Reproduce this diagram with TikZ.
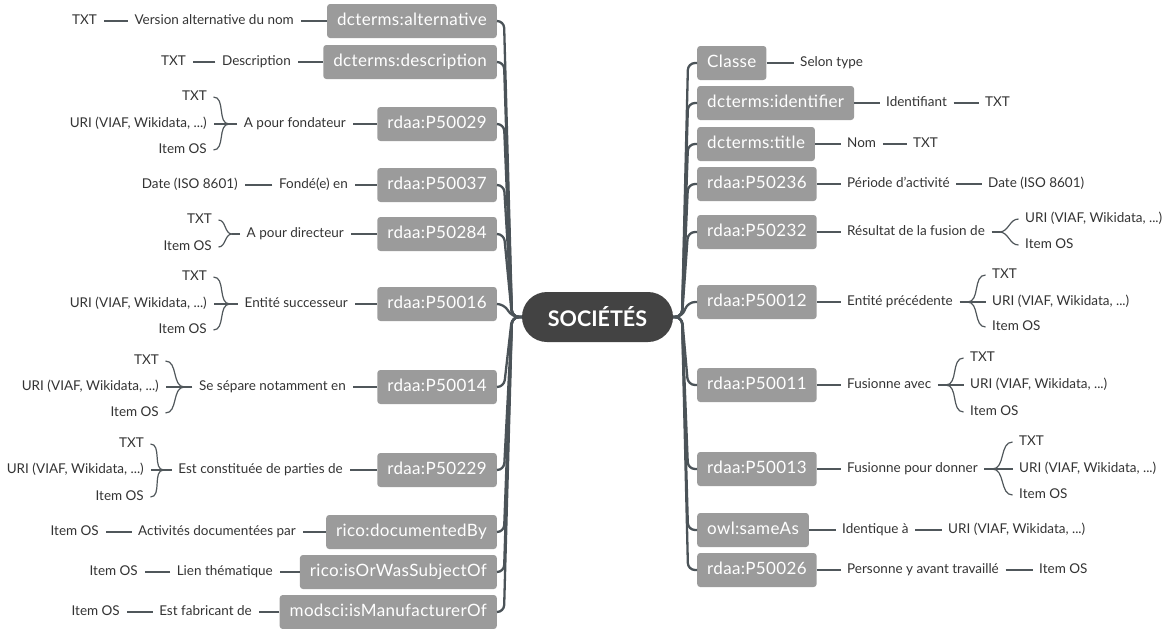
\documentclass[tikz,border=0pt]{standalone}
\usepackage{fontspec}
\setmainfont{Lato}
\newfontfamily\boxfont[LetterSpace=2]{Lato}
\definecolor{boxgray}{HTML}{9B9B9B}
\definecolor{centerdark}{HTML}{434343}
\definecolor{trunkc}{HTML}{4B5358}
\definecolor{linec}{HTML}{50575B}
\definecolor{txtc}{HTML}{333333}
\begin{document}
\begin{tikzpicture}[x=1pt,y=-1pt,
  prop/.style={fill=boxgray, text=white, rounded corners=3pt, minimum height=34pt,
    inner xsep=10pt, inner ysep=0pt, text height=12pt, text depth=3.5pt,
    font=\boxfont\fontsize{17}{19}\selectfont},
  lbl/.style={text=txtc, inner xsep=6.5pt, inner ysep=1pt, text height=9.5pt, text depth=2.5pt,
    font=\fontsize{13.5}{15}\selectfont},
  hub/.style={fill=centerdark, text=white, rounded corners=25pt, minimum width=151pt,
    minimum height=50pt, font=\fontsize{21.5}{23}\selectfont\bfseries},
  trunk/.style={draw=trunkc, line width=2.3pt, rounded corners=7pt},
  twig/.style={draw=linec, line width=1.2pt},
  brL/.style={twig, out=180, in=0},
  brR/.style={twig, out=0, in=180}]
\useasboundingbox (0,0) rectangle (1167,629);

% centre
\node[hub] (c) at (597.5,317) {SOCIÉTÉS};
\coordinate (jl) at (512,317);
\coordinate (sl) at (504,317);
\coordinate (jr) at (682,317);
\coordinate (sr) at (688,317);

% left boxes
\node[prop, anchor=east] (b1) at (497,21) {dcterms:alternative};
\node[prop, anchor=east] (b2) at (497,62) {dcterms:description};
\node[prop, anchor=east] (b3) at (497,124) {rdaa:P50029};
\node[prop, anchor=east] (b4) at (497,185) {rdaa:P50037};
\node[prop, anchor=east] (b5) at (497,234) {rdaa:P50284};
\node[prop, anchor=east] (b6) at (497,304) {rdaa:P50016};
\node[prop, anchor=east] (b7) at (497,387) {rdaa:P50014};
\node[prop, anchor=east] (b8) at (497,470) {rdaa:P50229};
\node[prop, anchor=east] (b9) at (497,532) {rico:documentedBy};
\node[prop, anchor=east] (b10) at (497,572) {rico:isOrWasSubjectOf};
\node[prop, anchor=east] (b11) at (497,612) {modsci:isManufacturerOf};

% right boxes
\node[prop, anchor=west] (r1) at (697,63) {Classe};
\node[prop, anchor=west] (r2) at (697,103) {dcterms:identifier};
\node[prop, anchor=west] (r3) at (697,144) {dcterms:title};
\node[prop, anchor=west] (r4) at (697,184) {rdaa:P50236};
\node[prop, anchor=west] (r5) at (697,232) {rdaa:P50232};
\node[prop, anchor=west] (r6) at (697,302) {rdaa:P50012};
\node[prop, anchor=west] (r7) at (697,385) {rdaa:P50011};
\node[prop, anchor=west] (r8) at (697,469) {rdaa:P50013};
\node[prop, anchor=west] (r9) at (697,530) {owl:sameAs};
\node[prop, anchor=west] (r10) at (697,570) {rdaa:P50026};

% trunks
\foreach \b in {b1,b2,b3,b4,b5,b6,b7,b8,b9,b10,b11}
  \draw[trunk] (c.west) -- (jl) -- (sl |- \b.east) -- (\b.east);
\foreach \b in {r1,r2,r3,r4,r5,r6,r7,r8,r9,r10}
  \draw[trunk] (c.east) -- (jr) -- (sr |- \b.west) -- (\b.west);

% ---------- left labels ----------
\node[lbl, anchor=east] (l1) at (300.5,21) {Version alternative du nom};
\node[lbl, anchor=east] (t1) at (103.5,21) {TXT};
\draw[twig] (b1.west) -- (l1.east);
\draw[twig] (l1.west) -- (t1.east);

\node[lbl, anchor=east] (l2) at (297.5,62) {Description};
\node[lbl, anchor=east] (t2) at (192.5,62) {TXT};
\draw[twig] (b2.west) -- (l2.east);
\draw[twig] (l2.west) -- (t2.east);

\node[lbl, anchor=east] (l3) at (352.5,124) {A pour fondateur};
\node[lbl, anchor=east] (a3) at (213.5,97) {TXT};
\node[lbl, anchor=east] (u3) at (213.5,124) {URI (VIAF, Wikidata, ...)};
\node[lbl, anchor=east] (i3) at (213.5,150) {Item OS};
\draw[twig] (b3.west) -- (l3.east);
\draw[twig] (l3.west) -- ++(-8,0) coordinate (p3);
\draw[brL] (p3) to (a3.east);
\draw[twig] (p3) -- (u3.east);
\draw[brL] (p3) to (i3.east);

\node[lbl, anchor=east] (l4) at (354.5,185) {Fondé(e) en};
\node[lbl, anchor=east] (t4) at (244.5,185) {Date (ISO 8601)};
\draw[twig] (b4.west) -- (l4.east);
\draw[twig] (l4.west) -- (t4.east);

\node[lbl, anchor=east] (l5) at (350.5,234) {A pour directeur};
\node[lbl, anchor=east] (a5) at (218.5,220) {TXT};
\node[lbl, anchor=east] (i5) at (218.5,247) {Item OS};
\draw[twig] (b5.west) -- (l5.east);
\draw[twig] (l5.west) -- ++(-8,0) coordinate (p5);
\draw[brL] (p5) to (a5.east);
\draw[brL] (p5) to (i5.east);

\node[lbl, anchor=east] (l6) at (354.5,304) {Entité successeur};
\node[lbl, anchor=east] (a6) at (213.5,277) {TXT};
\node[lbl, anchor=east] (u6) at (213.5,304) {URI (VIAF, Wikidata, ...)};
\node[lbl, anchor=east] (i6) at (213.5,330) {Item OS};
\draw[twig] (b6.west) -- (l6.east);
\draw[twig] (l6.west) -- ++(-8,0) coordinate (p6);
\draw[brL] (p6) to (a6.east);
\draw[twig] (p6) -- (u6.east);
\draw[brL] (p6) to (i6.east);

\node[lbl, anchor=east] (l7) at (352.5,387) {Se sépare notamment en};
\node[lbl, anchor=east] (a7) at (165.5,361) {TXT};
\node[lbl, anchor=east] (u7) at (165.5,387) {URI (VIAF, Wikidata, ...)};
\node[lbl, anchor=east] (i7) at (165.5,413) {Item OS};
\draw[twig] (b7.west) -- (l7.east);
\draw[twig] (l7.west) -- ++(-8,0) coordinate (p7);
\draw[brL] (p7) to (a7.east);
\draw[twig] (p7) -- (u7.east);
\draw[brL] (p7) to (i7.east);

\node[lbl, anchor=east] (l8) at (349.5,470) {Est constituée de parties de};
\node[lbl, anchor=east] (a8) at (150.5,444) {TXT};
\node[lbl, anchor=east] (u8) at (150.5,470) {URI (VIAF, Wikidata, ...)};
\node[lbl, anchor=east] (i8) at (150.5,497) {Item OS};
\draw[twig] (b8.west) -- (l8.east);
\draw[twig] (l8.west) -- ++(-8,0) coordinate (p8);
\draw[brL] (p8) to (a8.east);
\draw[twig] (p8) -- (u8.east);
\draw[brL] (p8) to (i8.east);

\node[lbl, anchor=east] (l9) at (302.5,532) {Activités documentées par};
\node[lbl, anchor=east] (t9) at (105.5,532) {Item OS};
\draw[twig] (b9.west) -- (l9.east);
\draw[twig] (l9.west) -- (t9.east);

\node[lbl, anchor=east] (l10) at (279.5,572) {Lien thématique};
\node[lbl, anchor=east] (t10) at (144.5,572) {Item OS};
\draw[twig] (b10.west) -- (l10.east);
\draw[twig] (l10.west) -- (t10.east);

\node[lbl, anchor=east] (l11) at (258.5,612) {Est fabricant de};
\node[lbl, anchor=east] (t11) at (126.5,612) {Item OS};
\draw[twig] (b11.west) -- (l11.east);
\draw[twig] (l11.west) -- (t11.east);

% ---------- right labels ----------
\node[lbl, anchor=west] (m1) at (793.5,63) {Selon type};
\draw[twig] (r1.east) -- (m1.west);

\node[lbl, anchor=west] (m2) at (879.5,103) {Identifiant};
\node[lbl, anchor=west] (s2) at (978.5,103) {TXT};
\draw[twig] (r2.east) -- (m2.west);
\draw[twig] (m2.east) -- (s2.west);

\node[lbl, anchor=west] (m3) at (840.5,144) {Nom};
\node[lbl, anchor=west] (s3) at (906.5,144) {TXT};
\draw[twig] (r3.east) -- (m3.west);
\draw[twig] (m3.east) -- (s3.west);

\node[lbl, anchor=west] (m4) at (840.5,184) {Période d'activité};
\node[lbl, anchor=west] (s4) at (981.5,184) {Date (ISO 8601)};
\draw[twig] (r4.east) -- (m4.west);
\draw[twig] (m4.east) -- (s4.west);

\node[lbl, anchor=west] (m5) at (840.5,232) {Résultat de la fusion de};
\node[lbl, anchor=west] (u5) at (1018.5,219) {URI (VIAF, Wikidata, ...)};
\node[lbl, anchor=west] (k5) at (1018.5,245) {Item OS};
\draw[twig] (r5.east) -- (m5.west);
\draw[twig] (m5.east) -- ++(8,0) coordinate (q5);
\draw[brR] (q5) to (u5.west);
\draw[brR] (q5) to (k5.west);

\node[lbl, anchor=west] (m6) at (840.5,302) {Entité précédente};
\node[lbl, anchor=west] (e6) at (985.5,275) {TXT};
\node[lbl, anchor=west] (u6r) at (985.5,302) {URI (VIAF, Wikidata, ...)};
\node[lbl, anchor=west] (k6) at (985.5,327) {Item OS};
\draw[twig] (r6.east) -- (m6.west);
\draw[twig] (m6.east) -- ++(8,0) coordinate (q6);
\draw[brR] (q6) to (e6.west);
\draw[twig] (q6) -- (u6r.west);
\draw[brR] (q6) to (k6.west);

\node[lbl, anchor=west] (m7) at (840.5,385) {Fusionne avec};
\node[lbl, anchor=west] (e7) at (963.5,358) {TXT};
\node[lbl, anchor=west] (u7r) at (963.5,385) {URI (VIAF, Wikidata, ...)};
\node[lbl, anchor=west] (k7) at (963.5,412) {Item OS};
\draw[twig] (r7.east) -- (m7.west);
\draw[twig] (m7.east) -- ++(8,0) coordinate (q7);
\draw[brR] (q7) to (e7.west);
\draw[twig] (q7) -- (u7r.west);
\draw[brR] (q7) to (k7.west);

\node[lbl, anchor=west] (m8) at (840.5,469) {Fusionne pour donner};
\node[lbl, anchor=west] (e8) at (1012.5,442) {TXT};
\node[lbl, anchor=west] (u8r) at (1012.5,469) {URI (VIAF, Wikidata, ...)};
\node[lbl, anchor=west] (k8) at (1012.5,495) {Item OS};
\draw[twig] (r8.east) -- (m8.west);
\draw[twig] (m8.east) -- ++(8,0) coordinate (q8);
\draw[brR] (q8) to (e8.west);
\draw[twig] (q8) -- (u8r.west);
\draw[brR] (q8) to (k8.west);

\node[lbl, anchor=west] (m9) at (835.5,530) {Identique à};
\node[lbl, anchor=west] (s9) at (941.5,530) {URI (VIAF, Wikidata, ...)};
\draw[twig] (r9.east) -- (m9.west);
\draw[twig] (m9.east) -- (s9.west);

\node[lbl, anchor=west] (m10) at (840.5,570) {Personne y avant travaillé};
\node[lbl, anchor=west] (s10) at (1032.5,570) {Item OS};
\draw[twig] (r10.east) -- (m10.west);
\draw[twig] (m10.east) -- (s10.west);
\end{tikzpicture}
\end{document}
